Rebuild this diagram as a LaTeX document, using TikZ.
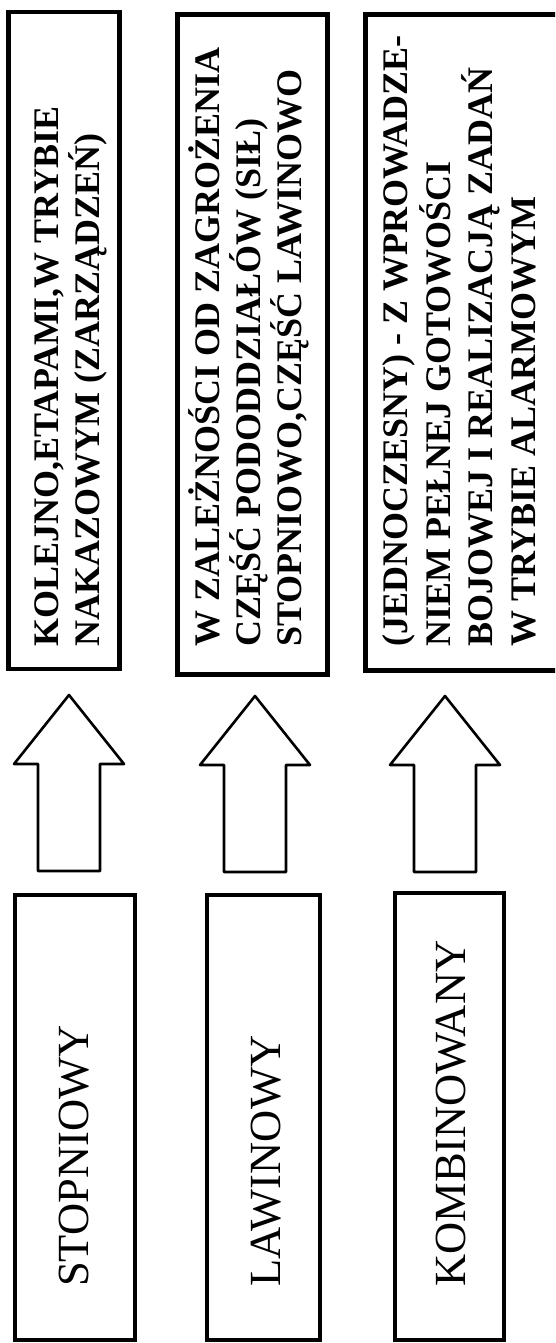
\documentclass[tikz,border=0pt]{standalone}
\usepackage{fontspec}
\setmainfont{Liberation Serif}
\begin{document}
\begin{tikzpicture}[x=1pt,y=-1pt,
  bigbox/.style={draw, line width=4.5pt, inner sep=0pt, outer sep=0pt},
  toptext/.style={rotate=90, anchor=base west, align=left, inner sep=0pt,
    font=\fontsize{36}{41}\selectfont\bfseries},
  lowtext/.style={rotate=90, anchor=base west, inner sep=0pt,
    font=\fontsize{44.5}{50}\selectfont},
  blockarrow/.style={draw, line width=2.6pt, line join=round}]
\useasboundingbox (0,0) rectangle (555,1343);
\clip (0,0) rectangle (555,1343);
% upper boxes
\node[bigbox, minimum width=111pt, minimum height=657pt] (ba) at (64,340.5) {};
\node[bigbox, minimum width=150pt, minimum height=660pt] (bb) at (252.5,344.5) {};
\node[bigbox, minimum width=234.5pt, minimum height=656pt] (bc) at (482.75,342.5) {};
% lower boxes
\node[bigbox, minimum width=120pt, minimum height=445pt] (la) at (75,1117.5) {};
\node[bigbox, minimum width=113pt, minimum height=445pt] (lb) at (263.5,1117.5) {};
\node[bigbox, minimum width=109pt, minimum height=447pt] (lc) at (449.5,1116.5) {};
% upper texts (anchor = baseline of the last line)
\node[toptext] (ta) at (99,647) {KOLEJNO,ETAPAMI,W TRYBIE\\NAKAZOWYM (ZARZĄDZEŃ)};
\node[toptext] (tb) at (301,647) {W ZALEŻNOŚCI OD ZAGROŻENIA\\CZĘŚĆ PODODDZIAŁÓW (SIŁ)\\STOPNIOWO,CZĘŚĆ LAWINOWO};
\node[toptext, font=\fontsize{36}{42.5}\selectfont\bfseries] (tc) at (535,647) {(JEDNOCZESNY) - Z WPROWADZE-\\NIEM PEŁNEJ GOTOWOŚCI\\BOJOWEJ I REALIZACJĄ ZADAŃ\\W TRYBIE ALARMOWYM};
% lower texts
\node[lowtext] (sa) at (88,1287) {STOPNIOWY};
\node[lowtext] (sb) at (280,1287) {LAWINOWY};
\node[lowtext] (sc) at (465,1287) {KOMBINOWANY};
% block arrows
\coordinate (t1) at (69,695);
\coordinate (t2) at (255,696);
\coordinate (t3) at (445,696);
\foreach \t in {t1,t2,t3}
  \draw[blockarrow] (\t) -- ++(55,69) -- ++(-24,0) -- ++(0,107) -- ++(-62,0) -- ++(0,-107) -- ++(-24,0) -- cycle;
\end{tikzpicture}
\end{document}
